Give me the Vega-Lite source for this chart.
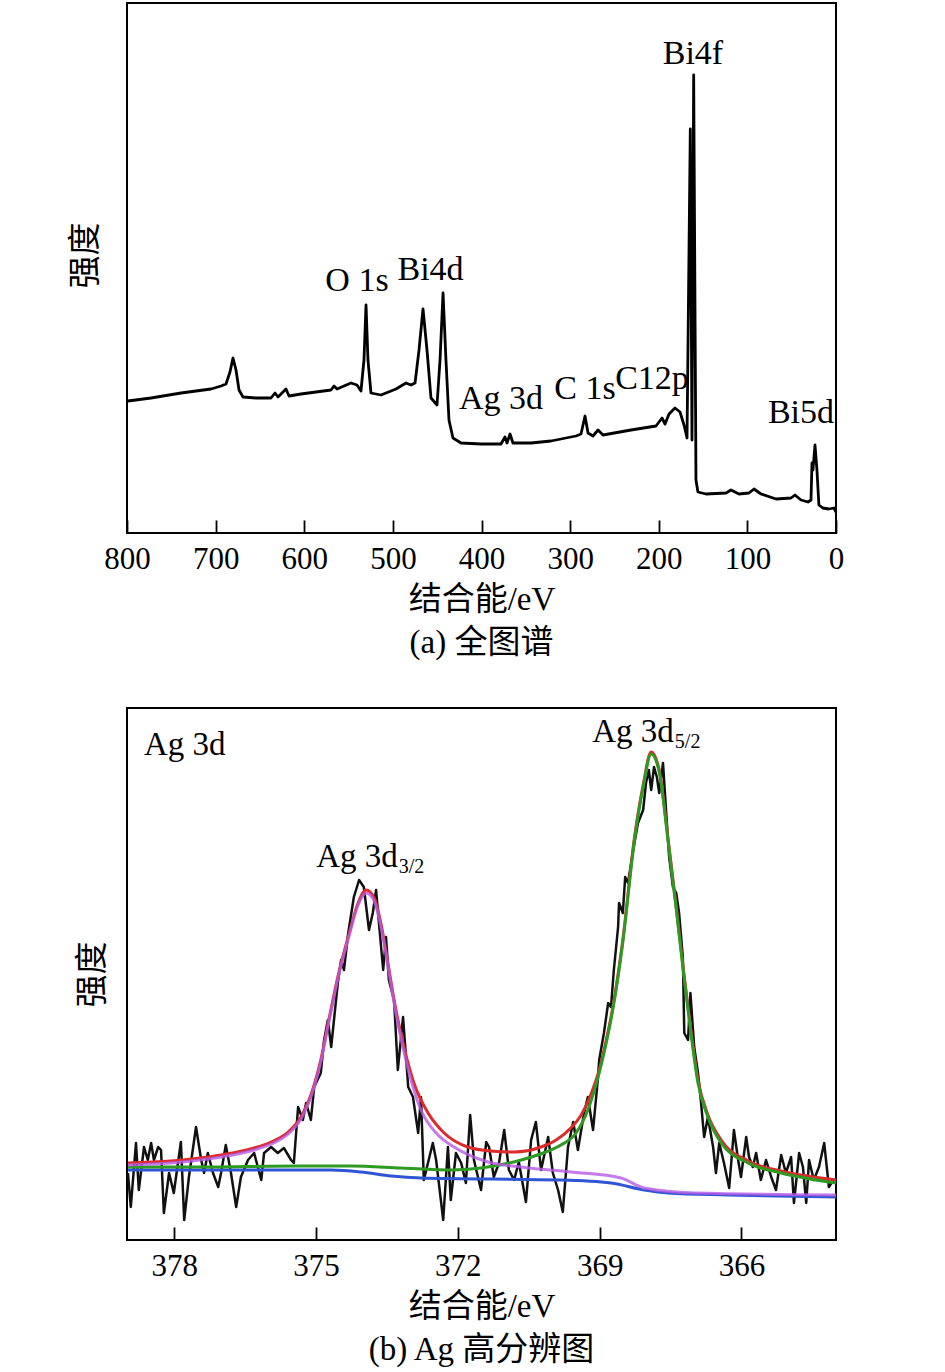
{
  "$schema": "https://vega.github.io/schema/vega-lite/v6.json",
  "padding": {"left": 68, "top": 2, "right": 5, "bottom": 2},
  "background": "white",
  "spacing": 46,
  "datasets": {
    "survey": [
      {"be": 798.9, "h": 132}, {"be": 772.9, "h": 135}, {"be": 739.0, "h": 140}, {"be": 705.2, "h": 144},
      {"be": 693.9, "h": 147}, {"be": 688.3, "h": 149}, {"be": 683.8, "h": 161}, {"be": 680.4, "h": 175},
      {"be": 677.0, "h": 163}, {"be": 673.6, "h": 143}, {"be": 669.1, "h": 136}, {"be": 654.4, "h": 135},
      {"be": 637.5, "h": 135}, {"be": 633.0, "h": 140}, {"be": 629.6, "h": 136}, {"be": 620.6, "h": 144},
      {"be": 617.2, "h": 137}, {"be": 603.7, "h": 139}, {"be": 569.8, "h": 143}, {"be": 566.4, "h": 147},
      {"be": 563.0, "h": 144}, {"be": 547.3, "h": 150}, {"be": 540.5, "h": 148}, {"be": 536.0, "h": 142},
      {"be": 532.6, "h": 173}, {"be": 530.3, "h": 228}, {"be": 528.1, "h": 173}, {"be": 524.7, "h": 140},
      {"be": 513.4, "h": 138}, {"be": 496.5, "h": 144}, {"be": 485.2, "h": 150}, {"be": 479.6, "h": 148},
      {"be": 475.0, "h": 150}, {"be": 470.5, "h": 183}, {"be": 466.0, "h": 224}, {"be": 461.5, "h": 183},
      {"be": 457.0, "h": 135}, {"be": 450.2, "h": 128}, {"be": 446.8, "h": 173}, {"be": 443.4, "h": 240},
      {"be": 440.1, "h": 173}, {"be": 436.7, "h": 113}, {"be": 432.2, "h": 95}, {"be": 423.1, "h": 90},
      {"be": 400.6, "h": 89}, {"be": 378.0, "h": 89}, {"be": 373.5, "h": 96}, {"be": 371.2, "h": 90},
      {"be": 367.8, "h": 99}, {"be": 364.5, "h": 90}, {"be": 344.1, "h": 90}, {"be": 321.6, "h": 92},
      {"be": 293.4, "h": 97}, {"be": 287.7, "h": 99}, {"be": 283.2, "h": 117}, {"be": 279.8, "h": 100},
      {"be": 274.2, "h": 97}, {"be": 268.5, "h": 103}, {"be": 262.9, "h": 98}, {"be": 231.3, "h": 103},
      {"be": 203.1, "h": 107}, {"be": 199.7, "h": 111}, {"be": 196.3, "h": 115}, {"be": 192.9, "h": 109},
      {"be": 188.4, "h": 119}, {"be": 181.7, "h": 125}, {"be": 176.0, "h": 121}, {"be": 171.5, "h": 108},
      {"be": 168.1, "h": 95}, {"be": 164.4, "h": 404}, {"be": 162.5, "h": 93}, {"be": 160.6, "h": 458},
      {"be": 158.0, "h": 53}, {"be": 155.8, "h": 41}, {"be": 146.7, "h": 39}, {"be": 124.1, "h": 40},
      {"be": 118.5, "h": 43}, {"be": 109.5, "h": 39}, {"be": 98.2, "h": 40}, {"be": 92.5, "h": 44},
      {"be": 84.6, "h": 39}, {"be": 67.7, "h": 34}, {"be": 50.8, "h": 35}, {"be": 46.3, "h": 38},
      {"be": 39.5, "h": 33}, {"be": 31.6, "h": 31}, {"be": 28.2, "h": 33}, {"be": 27.1, "h": 70},
      {"be": 26.0, "h": 63}, {"be": 23.7, "h": 88}, {"be": 21.5, "h": 63}, {"be": 19.3, "h": 28},
      {"be": 14.8, "h": 25}, {"be": 8.1, "h": 24}, {"be": 2.3, "h": 25}, {"be": 0, "h": 21}
    ],
    "peaksA": [
      {"label": "Bi4f", "be": 161.4, "h": 469},
      {"label": "O 1s", "be": 540.5, "h": 242},
      {"label": "Bi4d", "be": 457.5, "h": 253},
      {"label": "Ag 3d", "be": 378, "h": 124},
      {"label": "C 1s", "be": 283.2, "h": 134},
      {"label": "C12p", "be": 207.6, "h": 144},
      {"label": "Bi5d", "be": 39.5, "h": 110}
    ],
    "raw": [
      {"be": 378.98, "h": 67}, {"be": 378.92, "h": 33}, {"be": 378.81, "h": 97}, {"be": 378.75, "h": 50},
      {"be": 378.64, "h": 93}, {"be": 378.56, "h": 80}, {"be": 378.49, "h": 97}, {"be": 378.43, "h": 80},
      {"be": 378.34, "h": 93}, {"be": 378.28, "h": 90}, {"be": 378.22, "h": 27}, {"be": 378.11, "h": 67},
      {"be": 378.01, "h": 47}, {"be": 377.86, "h": 98}, {"be": 377.79, "h": 20}, {"be": 377.69, "h": 63},
      {"be": 377.54, "h": 113}, {"be": 377.43, "h": 80}, {"be": 377.37, "h": 67}, {"be": 377.29, "h": 87},
      {"be": 377.18, "h": 67}, {"be": 377.07, "h": 53}, {"be": 377.01, "h": 67}, {"be": 376.91, "h": 95},
      {"be": 376.80, "h": 67}, {"be": 376.69, "h": 33}, {"be": 376.59, "h": 63}, {"be": 376.44, "h": 80},
      {"be": 376.31, "h": 87}, {"be": 376.16, "h": 60}, {"be": 376.10, "h": 87}, {"be": 375.95, "h": 93},
      {"be": 375.81, "h": 87}, {"be": 375.68, "h": 92}, {"be": 375.53, "h": 80}, {"be": 375.47, "h": 77},
      {"be": 375.38, "h": 133}, {"be": 375.28, "h": 120}, {"be": 375.21, "h": 137}, {"be": 375.11, "h": 120},
      {"be": 375.04, "h": 153}, {"be": 374.90, "h": 167}, {"be": 374.83, "h": 200}, {"be": 374.75, "h": 220},
      {"be": 374.68, "h": 193}, {"be": 374.54, "h": 257}, {"be": 374.47, "h": 280}, {"be": 374.41, "h": 270},
      {"be": 374.32, "h": 307}, {"be": 374.20, "h": 343}, {"be": 374.09, "h": 360}, {"be": 373.99, "h": 353},
      {"be": 373.88, "h": 310}, {"be": 373.80, "h": 327}, {"be": 373.73, "h": 350}, {"be": 373.67, "h": 317},
      {"be": 373.58, "h": 270}, {"be": 373.52, "h": 303}, {"be": 373.46, "h": 260}, {"be": 373.35, "h": 240},
      {"be": 373.27, "h": 170}, {"be": 373.16, "h": 223}, {"be": 373.05, "h": 153}, {"be": 372.95, "h": 143},
      {"be": 372.84, "h": 107}, {"be": 372.78, "h": 143}, {"be": 372.72, "h": 60}, {"be": 372.53, "h": 97},
      {"be": 372.46, "h": 80}, {"be": 372.31, "h": 20}, {"be": 372.21, "h": 93}, {"be": 372.15, "h": 40},
      {"be": 372.04, "h": 87}, {"be": 371.93, "h": 77}, {"be": 371.83, "h": 57}, {"be": 371.74, "h": 125},
      {"be": 371.66, "h": 80}, {"be": 371.51, "h": 50}, {"be": 371.40, "h": 98}, {"be": 371.34, "h": 93},
      {"be": 371.24, "h": 63}, {"be": 371.13, "h": 77}, {"be": 371.02, "h": 110}, {"be": 370.92, "h": 70},
      {"be": 370.81, "h": 60}, {"be": 370.71, "h": 78}, {"be": 370.56, "h": 38}, {"be": 370.45, "h": 100},
      {"be": 370.35, "h": 118}, {"be": 370.24, "h": 70}, {"be": 370.09, "h": 103}, {"be": 369.99, "h": 67},
      {"be": 369.88, "h": 50}, {"be": 369.78, "h": 28}, {"be": 369.67, "h": 93}, {"be": 369.56, "h": 118},
      {"be": 369.46, "h": 90}, {"be": 369.33, "h": 127}, {"be": 369.25, "h": 143}, {"be": 369.14, "h": 110},
      {"be": 369.04, "h": 160}, {"be": 369.01, "h": 180}, {"be": 368.91, "h": 207}, {"be": 368.82, "h": 237},
      {"be": 368.76, "h": 233}, {"be": 368.70, "h": 270}, {"be": 368.61, "h": 313}, {"be": 368.59, "h": 337},
      {"be": 368.51, "h": 327}, {"be": 368.46, "h": 363}, {"be": 368.40, "h": 357}, {"be": 368.29, "h": 390},
      {"be": 368.19, "h": 417}, {"be": 368.08, "h": 430}, {"be": 368.02, "h": 457}, {"be": 367.96, "h": 470},
      {"be": 367.91, "h": 450}, {"be": 367.85, "h": 473}, {"be": 367.79, "h": 463}, {"be": 367.74, "h": 447},
      {"be": 367.66, "h": 477}, {"be": 367.60, "h": 433}, {"be": 367.53, "h": 383}, {"be": 367.45, "h": 353},
      {"be": 367.38, "h": 347}, {"be": 367.32, "h": 327}, {"be": 367.24, "h": 283}, {"be": 367.21, "h": 207},
      {"be": 367.13, "h": 200}, {"be": 367.08, "h": 247}, {"be": 367.00, "h": 193}, {"be": 366.92, "h": 167},
      {"be": 366.86, "h": 140}, {"be": 366.79, "h": 103}, {"be": 366.71, "h": 123}, {"be": 366.60, "h": 93},
      {"be": 366.54, "h": 67}, {"be": 366.47, "h": 97}, {"be": 366.37, "h": 77}, {"be": 366.26, "h": 52},
      {"be": 366.16, "h": 110}, {"be": 366.07, "h": 80}, {"be": 366.01, "h": 63}, {"be": 365.90, "h": 103},
      {"be": 365.84, "h": 83}, {"be": 365.76, "h": 73}, {"be": 365.69, "h": 87}, {"be": 365.59, "h": 60},
      {"be": 365.48, "h": 80}, {"be": 365.37, "h": 63}, {"be": 365.27, "h": 50}, {"be": 365.16, "h": 85},
      {"be": 365.06, "h": 67}, {"be": 364.95, "h": 83}, {"be": 364.89, "h": 37}, {"be": 364.78, "h": 87},
      {"be": 364.70, "h": 73}, {"be": 364.63, "h": 37}, {"be": 364.57, "h": 80}, {"be": 364.47, "h": 60},
      {"be": 364.36, "h": 73}, {"be": 364.25, "h": 97}, {"be": 364.15, "h": 53}, {"be": 364.06, "h": 60},
      {"be": 364.00, "h": 60}
    ],
    "fits": [
      {"series": "sum", "be": 378.98, "h": 77}, {"series": "sum", "be": 378.07, "h": 79}, {"series": "sum", "be": 377.01, "h": 85},
      {"series": "sum", "be": 376.31, "h": 92}, {"series": "sum", "be": 375.95, "h": 98}, {"series": "sum", "be": 375.59, "h": 108},
      {"series": "sum", "be": 375.32, "h": 123}, {"series": "sum", "be": 375.06, "h": 152}, {"series": "sum", "be": 374.90, "h": 180},
      {"series": "sum", "be": 374.73, "h": 220}, {"series": "sum", "be": 374.54, "h": 263}, {"series": "sum", "be": 374.32, "h": 303},
      {"series": "sum", "be": 374.11, "h": 337}, {"series": "sum", "be": 373.94, "h": 350}, {"series": "sum", "be": 373.77, "h": 342},
      {"series": "sum", "be": 373.63, "h": 317}, {"series": "sum", "be": 373.48, "h": 277}, {"series": "sum", "be": 373.35, "h": 240},
      {"series": "sum", "be": 373.14, "h": 193}, {"series": "sum", "be": 372.93, "h": 157}, {"series": "sum", "be": 372.63, "h": 127},
      {"series": "sum", "be": 372.29, "h": 107}, {"series": "sum", "be": 371.79, "h": 93}, {"series": "sum", "be": 371.30, "h": 89},
      {"series": "sum", "be": 370.81, "h": 88}, {"series": "sum", "be": 370.24, "h": 93}, {"series": "sum", "be": 369.92, "h": 100},
      {"series": "sum", "be": 369.61, "h": 112}, {"series": "sum", "be": 369.39, "h": 125}, {"series": "sum", "be": 369.19, "h": 145},
      {"series": "sum", "be": 369.01, "h": 170}, {"series": "sum", "be": 368.87, "h": 198}, {"series": "sum", "be": 368.72, "h": 233},
      {"series": "sum", "be": 368.51, "h": 300}, {"series": "sum", "be": 368.27, "h": 400}, {"series": "sum", "be": 368.08, "h": 455},
      {"series": "sum", "be": 367.91, "h": 488}, {"series": "sum", "be": 367.74, "h": 470}, {"series": "sum", "be": 367.55, "h": 400},
      {"series": "sum", "be": 367.38, "h": 333}, {"series": "sum", "be": 367.22, "h": 267}, {"series": "sum", "be": 367.07, "h": 210},
      {"series": "sum", "be": 366.92, "h": 160}, {"series": "sum", "be": 366.71, "h": 125}, {"series": "sum", "be": 366.43, "h": 100},
      {"series": "sum", "be": 365.86, "h": 79}, {"series": "sum", "be": 365.16, "h": 69}, {"series": "sum", "be": 364.00, "h": 60},

      {"series": "d52", "be": 378.98, "h": 73}, {"series": "d52", "be": 377.43, "h": 73}, {"series": "d52", "be": 375.32, "h": 74},
      {"series": "d52", "be": 374.26, "h": 74}, {"series": "d52", "be": 373.20, "h": 72}, {"series": "d52", "be": 372.15, "h": 70},
      {"series": "d52", "be": 371.51, "h": 72}, {"series": "d52", "be": 370.66, "h": 80}, {"series": "d52", "be": 370.14, "h": 88},
      {"series": "d52", "be": 369.82, "h": 95}, {"series": "d52", "be": 369.50, "h": 107}, {"series": "d52", "be": 369.25, "h": 130},
      {"series": "d52", "be": 369.01, "h": 167}, {"series": "d52", "be": 368.87, "h": 195}, {"series": "d52", "be": 368.72, "h": 231},
      {"series": "d52", "be": 368.51, "h": 298}, {"series": "d52", "be": 368.27, "h": 398}, {"series": "d52", "be": 368.08, "h": 453},
      {"series": "d52", "be": 367.91, "h": 486}, {"series": "d52", "be": 367.74, "h": 468}, {"series": "d52", "be": 367.55, "h": 398},
      {"series": "d52", "be": 367.38, "h": 331}, {"series": "d52", "be": 367.22, "h": 265}, {"series": "d52", "be": 367.07, "h": 207},
      {"series": "d52", "be": 366.92, "h": 157}, {"series": "d52", "be": 366.71, "h": 123}, {"series": "d52", "be": 366.43, "h": 97},
      {"series": "d52", "be": 365.86, "h": 77}, {"series": "d52", "be": 365.16, "h": 67}, {"series": "d52", "be": 364.00, "h": 57},

      {"series": "d32", "be": 378.98, "h": 75}, {"series": "d32", "be": 378.07, "h": 77}, {"series": "d32", "be": 377.01, "h": 83},
      {"series": "d32", "be": 376.31, "h": 90}, {"series": "d32", "be": 375.95, "h": 96}, {"series": "d32", "be": 375.59, "h": 106},
      {"series": "d32", "be": 375.32, "h": 121}, {"series": "d32", "be": 375.06, "h": 150}, {"series": "d32", "be": 374.90, "h": 178},
      {"series": "d32", "be": 374.73, "h": 218}, {"series": "d32", "be": 374.54, "h": 261}, {"series": "d32", "be": 374.32, "h": 301},
      {"series": "d32", "be": 374.11, "h": 335}, {"series": "d32", "be": 373.94, "h": 347}, {"series": "d32", "be": 373.77, "h": 339},
      {"series": "d32", "be": 373.63, "h": 314}, {"series": "d32", "be": 373.48, "h": 274}, {"series": "d32", "be": 373.35, "h": 237},
      {"series": "d32", "be": 373.14, "h": 188}, {"series": "d32", "be": 372.93, "h": 150}, {"series": "d32", "be": 372.78, "h": 130},
      {"series": "d32", "be": 372.42, "h": 105}, {"series": "d32", "be": 372.08, "h": 93}, {"series": "d32", "be": 371.36, "h": 78},
      {"series": "d32", "be": 370.66, "h": 73}, {"series": "d32", "be": 369.61, "h": 68}, {"series": "d32", "be": 368.55, "h": 62},
      {"series": "d32", "be": 368.06, "h": 52}, {"series": "d32", "be": 367.00, "h": 47}, {"series": "d32", "be": 364.00, "h": 45},

      {"series": "bg", "be": 378.98, "h": 70}, {"series": "bg", "be": 376.38, "h": 70}, {"series": "bg", "be": 374.68, "h": 70},
      {"series": "bg", "be": 374.05, "h": 68}, {"series": "bg", "be": 373.41, "h": 64}, {"series": "bg", "be": 372.78, "h": 62},
      {"series": "bg", "be": 369.82, "h": 60}, {"series": "bg", "be": 368.76, "h": 57}, {"series": "bg", "be": 368.06, "h": 50},
      {"series": "bg", "be": 367.55, "h": 47}, {"series": "bg", "be": 366.28, "h": 45}, {"series": "bg", "be": 364.00, "h": 43}
    ],
    "peaksB": [
      {"label": "Ag 3d", "part": "corner", "be": 378.64, "h": 485},
      {"label": "Ag 3d", "part": "main", "be": 373.27, "h": 373},
      {"label": "3/2", "part": "sub", "be": 373.25, "h": 367},
      {"label": "Ag 3d", "part": "main", "be": 367.43, "h": 498},
      {"label": "5/2", "part": "sub", "be": 367.41, "h": 492}
    ]
  },
  "vconcat": [
    {
      "width": 709,
      "height": 530,
      "title": {"text": "(a) 全图谱"},
      "layer": [
        {
          "data": {"name": "survey"},
          "mark": {"type": "line", "color": "black", "strokeWidth": 2.8, "strokeJoin": "round"},
          "encoding": {
            "x": {"field": "be", "type": "quantitative", "scale": {"domain": [0, 800], "reverse": true, "nice": false, "zero": false},
                  "axis": {"title": "结合能/eV", "values": [800, 700, 600, 500, 400, 300, 200, 100, 0]}},
            "y": {"field": "h", "type": "quantitative", "scale": {"domain": [0, 530], "nice": false},
                  "axis": {"title": "强度", "titlePadding": 25, "titleY": 252}}
          }
        },
        {
          "data": {"name": "peaksA"},
          "mark": {"type": "text", "fontSize": 34, "align": "center", "baseline": "alphabetic", "color": "black"},
          "encoding": {
            "x": {"field": "be", "type": "quantitative"},
            "y": {"field": "h", "type": "quantitative"},
            "text": {"field": "label"}
          }
        }
      ]
    },
    {
      "width": 709,
      "height": 532,
      "title": {"text": "(b) Ag 高分辨图"},
      "layer": [
        {
          "data": {"name": "raw"},
          "mark": {"type": "line", "color": "#111111", "strokeWidth": 2.5, "strokeJoin": "round", "clip": true},
          "encoding": {
            "x": {"field": "be", "type": "quantitative", "scale": {"domain": [364, 379], "reverse": true, "nice": false, "zero": false},
                  "axis": {"title": "结合能/eV", "values": [378, 375, 372, 369, 366]}},
            "y": {"field": "h", "type": "quantitative", "scale": {"domain": [0, 532], "nice": false},
                  "axis": {"title": "强度", "titlePadding": 18}}
          }
        },
        {
          "data": {"name": "fits"},
          "transform": [{"filter": "datum.series === 'bg'"}],
          "mark": {"type": "line", "color": "#2f55d4", "strokeWidth": 3, "interpolate": "monotone"},
          "encoding": {"x": {"field": "be", "type": "quantitative"}, "y": {"field": "h", "type": "quantitative"}}
        },
        {
          "data": {"name": "fits"},
          "transform": [{"filter": "datum.series === 'sum'"}],
          "mark": {"type": "line", "color": "#dd2a2a", "strokeWidth": 3, "interpolate": "monotone"},
          "encoding": {"x": {"field": "be", "type": "quantitative"}, "y": {"field": "h", "type": "quantitative"}}
        },
        {
          "data": {"name": "fits"},
          "transform": [{"filter": "datum.series === 'd52'"}],
          "mark": {"type": "line", "color": "#2e9a22", "strokeWidth": 3, "interpolate": "monotone"},
          "encoding": {"x": {"field": "be", "type": "quantitative"}, "y": {"field": "h", "type": "quantitative"}}
        },
        {
          "data": {"name": "fits"},
          "transform": [{"filter": "datum.series === 'd32'"}],
          "mark": {"type": "line", "color": "#b65be6", "strokeWidth": 3, "opacity": 0.8, "interpolate": "monotone"},
          "encoding": {"x": {"field": "be", "type": "quantitative"}, "y": {"field": "h", "type": "quantitative"}}
        },
        {
          "data": {"name": "peaksB"},
          "transform": [{"filter": "datum.part === 'corner'"}],
          "mark": {"type": "text", "fontSize": 33, "align": "left", "baseline": "alphabetic", "color": "black"},
          "encoding": {
            "x": {"field": "be", "type": "quantitative"},
            "y": {"field": "h", "type": "quantitative"},
            "text": {"field": "label"}
          }
        },
        {
          "data": {"name": "peaksB"},
          "transform": [{"filter": "datum.part === 'main'"}],
          "mark": {"type": "text", "fontSize": 33, "align": "right", "baseline": "alphabetic", "color": "black"},
          "encoding": {
            "x": {"field": "be", "type": "quantitative"},
            "y": {"field": "h", "type": "quantitative"},
            "text": {"field": "label"}
          }
        },
        {
          "data": {"name": "peaksB"},
          "transform": [{"filter": "datum.part === 'sub'"}],
          "mark": {"type": "text", "fontSize": 20, "align": "left", "baseline": "alphabetic", "color": "black"},
          "encoding": {
            "x": {"field": "be", "type": "quantitative"},
            "y": {"field": "h", "type": "quantitative"},
            "text": {"field": "label"}
          }
        }
      ]
    }
  ],
  "config": {
    "font": "Liberation Serif, Noto Sans CJK SC",
    "view": {"stroke": "black", "strokeWidth": 2},
    "axis": {
      "grid": false,
      "domain": false,
      "labelFont": "Liberation Serif, Noto Sans CJK SC",
      "titleFont": "Liberation Serif, Noto Sans CJK SC",
      "labelFontSize": 31,
      "titleFontSize": 33,
      "titleFontWeight": "normal",
      "labelColor": "black",
      "titleColor": "black",
      "tickColor": "black",
      "tickWidth": 1.8
    },
    "axisX": {"tickSize": -13, "labelPadding": 24, "titlePadding": 9, "labelFlush": false, "labelOverlap": false},
    "axisY": {"labels": false, "ticks": false},
    "title": {
      "orient": "bottom",
      "anchor": "middle",
      "fontSize": 33,
      "fontWeight": "normal",
      "color": "black",
      "font": "Liberation Serif, Noto Sans CJK SC",
      "offset": 11
    }
  }
}
